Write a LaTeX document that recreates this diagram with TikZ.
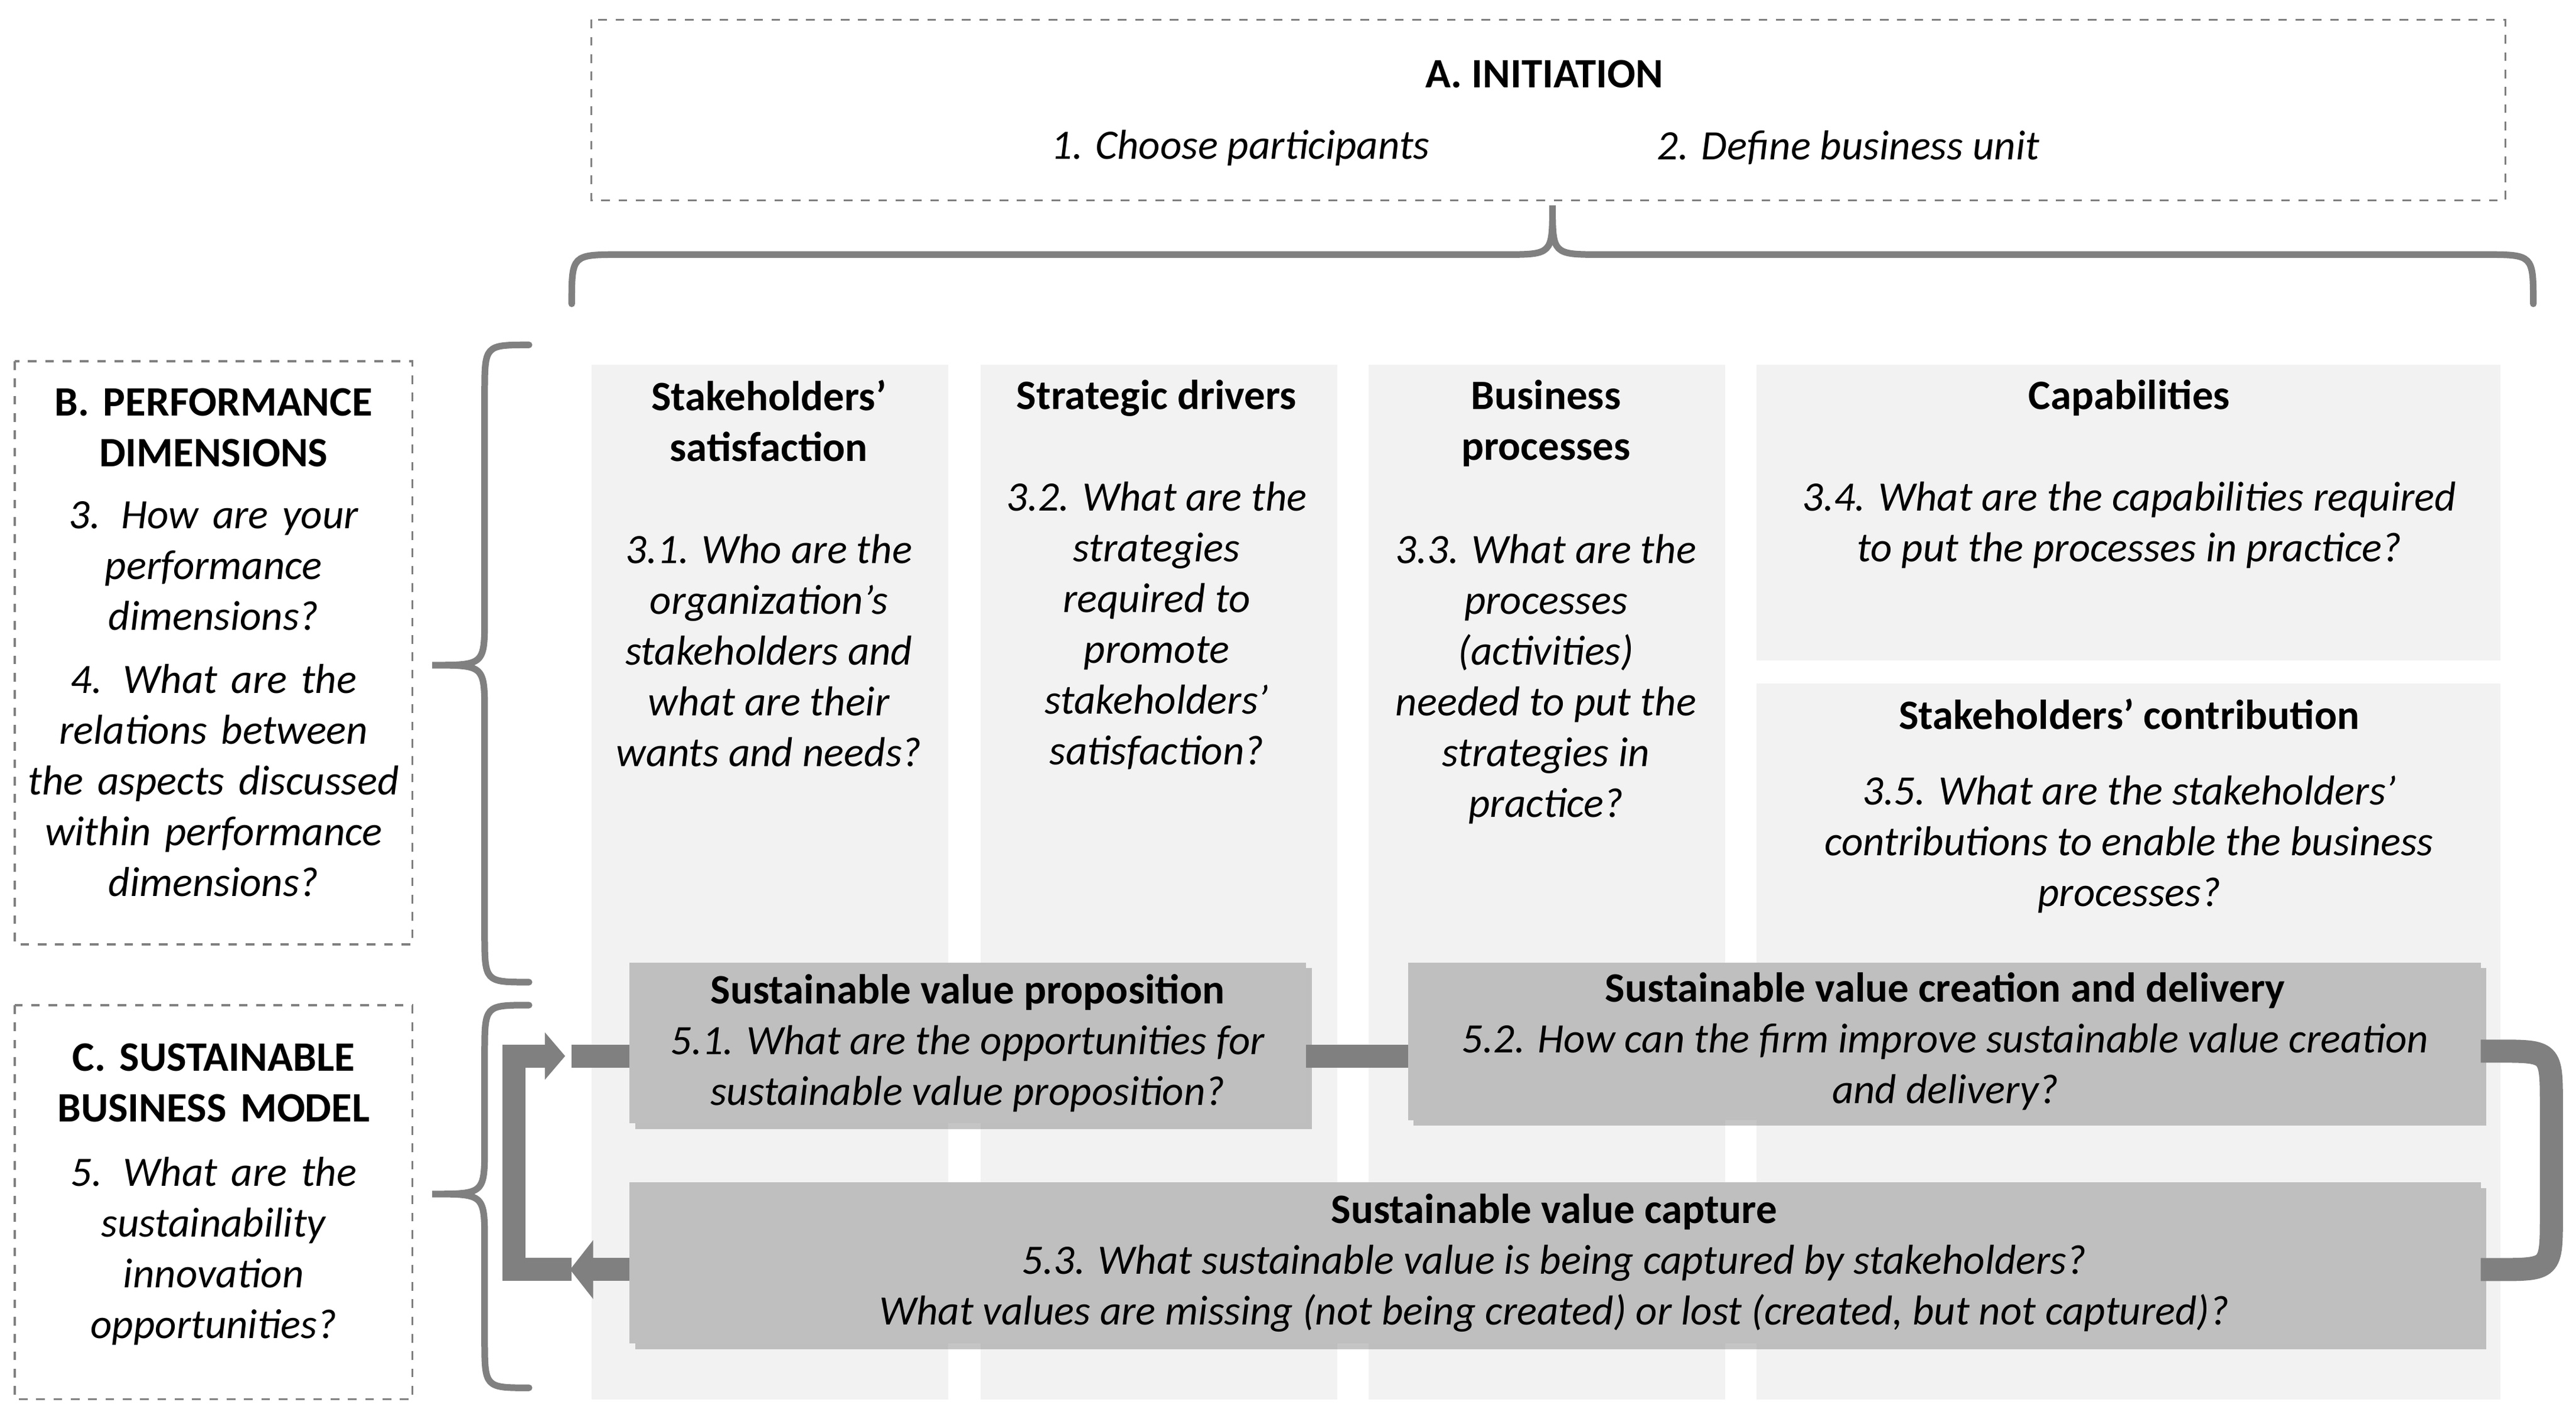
\documentclass[tikz,border=0pt]{standalone}
\usepackage{fontspec}
\setmainfont{Carlito}
\usetikzlibrary{shadows,arrows.meta}
\definecolor{colbg}{HTML}{F2F2F2}
\definecolor{boxbg}{HTML}{BFBFBF}
\definecolor{linegray}{HTML}{808080}
\begin{document}
\begin{tikzpicture}[x=0.02cm,y=-0.02cm,
  every node/.style={font=\fontsize{14.5}{17.6}\selectfont, inner sep=0pt, align=center},
  dashbox/.style={draw=gray, dashed, line width=0.7pt},
  col/.style={fill=colbg, draw=none},
  ttl/.style={font=\fontsize{14.5}{17.6}\selectfont\bfseries, anchor=north},
  qst/.style={font=\fontsize{14.5}{17.6}\selectfont\itshape, anchor=north},
  brc/.style={draw=linegray, line width=2.3pt, line cap=round},
  dark/.style={fill=boxbg, draw=none, drop shadow={shadow xshift=2pt, shadow yshift=-2pt, fill=black!45, opacity=0.5}},
  loop/.style={draw=linegray, line width=8pt}
]
\useasboundingbox (0,0) rectangle (1568,862);
% Initiation
\draw[dashbox] (360,12) rectangle (1525,122);
\node[font=\fontsize{14.5}{17.6}\selectfont\bfseries] (ainit) at (940,45) {A. INITIATION};
\node[font=\fontsize{14.5}{17.6}\selectfont\itshape] (a1) at (755,90) {1. Choose participants};
\node[font=\fontsize{14.5}{17.6}\selectfont\itshape] (a2) at (1125,90) {2. Define business unit};
% top brace
\draw[brc] (348,185) .. controls (348,155) .. (378,155) -- (915,155) .. controls (945,155) .. (945,125) .. controls (945,155) .. (975,155) -- (1512,155) .. controls (1542,155) .. (1542,185);
% B and C boxes
\draw[dashbox] (9,220) rectangle (251,575);
\draw[dashbox] (9,612) rectangle (251,852);
\node[ttl, text width=4.4cm] (btitle) at (130,236) {B. PERFORMANCE DIMENSIONS};
\node[qst, text width=4.4cm] (bq) at (130,305) {3. How are your\\performance\\dimensions?};
\node[qst, text width=4.6cm] (bq2) at (130,404) {4. What are the\\relations between\\the aspects discussed\\within performance\\dimensions?};
\node[ttl, text width=4.4cm] (ctitle) at (130,635) {C. SUSTAINABLE\\BUSINESS MODEL};
\node[qst, text width=4.4cm] (cq) at (130,704) {5. What are the\\sustainability\\innovation\\opportunities?};
% left braces
\draw[brc] (322,210) .. controls (295,210) .. (295,240) -- (295,375) .. controls (295,405) .. (263,405) .. controls (295,405) .. (295,435) -- (295,568) .. controls (295,598) .. (322,598);
\draw[brc] (322,612) .. controls (295,612) .. (295,642) -- (295,697) .. controls (295,727) .. (263,727) .. controls (295,727) .. (295,757) -- (295,815) .. controls (295,845) .. (322,845);
% columns
\fill[col] (360,222) rectangle (577,852);
\fill[col] (597,222) rectangle (814,852);
\fill[col] (833,222) rectangle (1050,852);
\fill[col] (1069,222) rectangle (1522,402);
\fill[col] (1069,416) rectangle (1522,852);
\node[ttl] (t1) at (468,231) {Stakeholders’\\satisfaction};
\node[qst] (q1) at (468,325) {3.1. Who are the\\organization's\\stakeholders and\\what are their\\wants and needs?};
\node[ttl] (t2) at (704,231) {Strategic drivers};
\node[qst] (q2) at (704,293) {3.2. What are the\\strategies\\required to\\promote\\stakeholders'\\satisfaction?};
\node[ttl] (t3) at (941,231) {Business\\processes};
\node[qst] (q3) at (941,325) {3.3. What are the\\processes\\(activities)\\needed to put the\\strategies in\\practice?};
\node[ttl] (t4) at (1296,231) {Capabilities};
\node[qst] (q4) at (1296,293) {3.4. What are the capabilities required\\to put the processes in practice?};
\node[ttl] (t5) at (1296,425) {Stakeholders’ contribution};
\node[qst] (q5) at (1296,472) {3.5. What are the stakeholders'\\contributions to enable the business\\processes?};
% dark boxes
\path[dark] (383,586) rectangle (795,684);
\path[dark] (857,586) rectangle (1510,682);
\path[dark] (383,720) rectangle (1510,818);
\node (svp) at (589,635) {\textbf{Sustainable value proposition}\\\textit{5.1. What are the opportunities for}\\\textit{sustainable value proposition?}};
\node (svcd) at (1184,634) {\textbf{Sustainable value creation and delivery}\\\textit{5.2. How can the firm improve sustainable value creation}\\\textit{and delivery?}};
\node (svc) at (946,769) {\textbf{Sustainable value capture}\\\textit{5.3. What sustainable value is being captured by stakeholders?}\\\textit{What values are missing (not being created) or lost (created, but not captured)?}};
\coordinate (svpw) at (383,643);
\coordinate (svpe) at (795,643);
\coordinate (svcde) at (1510,640);
\coordinate (svcdw) at (857,643);
\coordinate (svce) at (1510,773);
\coordinate (svcw) at (383,773);
% connectors
\draw[loop] (svpe) -- (svcdw);
\draw[loop] (svpw) -- (348,643);
\draw[loop, -{Triangle[length=7pt,width=16pt]}] (348,773) -- (313,773) -- (313,643) -- (344,643);
\draw[loop, -{Triangle[length=8pt,width=20pt]}, shorten >=0pt] (svcw) -- (347,773);
\draw[loop] (svcde) -- (1520,640) .. controls (1553,640) .. (1553,673) -- (1553,740) .. controls (1553,773) .. (1520,773) -- (svce);
\end{tikzpicture}
\end{document}
